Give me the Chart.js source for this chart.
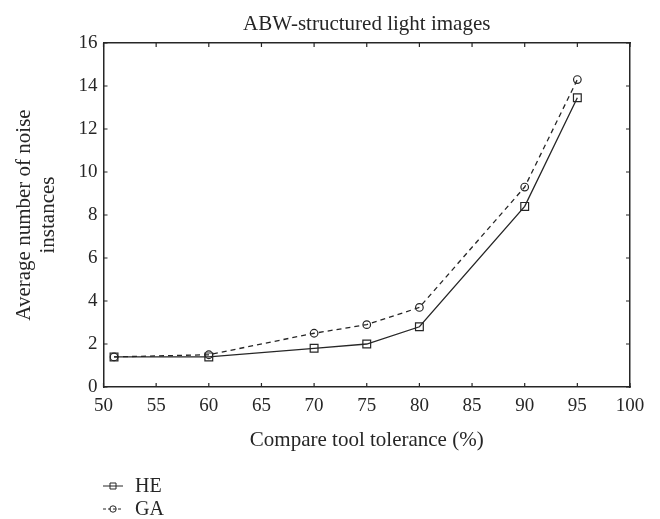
<!DOCTYPE html>
<html>
<head>
<meta charset="utf-8">
<script src="https://cdn.jsdelivr.net/npm/chart.js@4/dist/chart.umd.min.js"></script>
<style>
  html, body { margin: 0; padding: 0; background: #fff; }
  #wrap { width: 660px; height: 519px; }
</style>
</head>
<body>
<div id="wrap"><canvas id="chart"></canvas></div>
<script>
const tolerance = [51, 60, 70, 75, 80, 90, 95]
const heValues = [1.4, 1.4, 1.8, 2.0, 2.8, 8.4, 13.45]
const gaValues = [1.4, 1.5, 2.5, 2.9, 3.7, 9.3, 14.3]
const xTicks = [50, 55, 60, 65, 70, 75, 80, 85, 90, 95, 100]
const yTicks = [0, 2, 4, 6, 8, 10, 12, 14, 16]

const serif = '"Liberation Serif", "DejaVu Serif", serif'
const ink = '#262626'

// inner tick marks on all four sides + legend under the axis title
const frameTicks = {
  id: 'frameTicks',
  afterDraw(chart) {
    const { ctx, chartArea: a } = chart
    const x = chart.scales.x, y = chart.scales.y
    const len = 4
    ctx.save()
    ctx.strokeStyle = ink
    ctx.lineWidth = 1.2
    ctx.beginPath()
    xTicks.forEach(v => {
      const px = x.getPixelForValue(v)
      ctx.moveTo(px, a.bottom); ctx.lineTo(px, a.bottom - len)
      ctx.moveTo(px, a.top); ctx.lineTo(px, a.top + len)
    })
    yTicks.forEach(v => {
      const py = y.getPixelForValue(v)
      ctx.moveTo(a.left, py); ctx.lineTo(a.left + len, py)
      ctx.moveTo(a.right, py); ctx.lineTo(a.right - len, py)
    })
    ctx.stroke()

    // legend
    const items = [
      { label: 'HE', dash: [], style: 'rect' },
      { label: 'GA', dash: [3, 2], style: 'circle' }
    ]
    ctx.font = '20px ' + serif
    ctx.textBaseline = 'middle'
    items.forEach((it, i) => {
      const ly = 486 + i * 23
      ctx.setLineDash(it.dash)
      ctx.lineWidth = 1
      ctx.beginPath()
      ctx.moveTo(103, ly); ctx.lineTo(123, ly)
      ctx.stroke()
      ctx.setLineDash([])
      ctx.beginPath()
      if (it.style === 'rect') ctx.rect(110, ly - 3, 6, 6)
      else ctx.arc(113, ly, 3.2, 0, Math.PI * 2)
      ctx.stroke()
      ctx.fillStyle = ink
      ctx.fillText(it.label, 135, ly + 1)
    })
    ctx.restore()
  }
}

new Chart(document.getElementById('chart'), {
  type: 'line',
  data: {
    datasets: [
      {
        label: 'HE',
        data: tolerance.map((t, i) => ({ x: t, y: heValues[i] })),
        borderColor: ink,
        borderWidth: 1.3,
        pointStyle: 'rect',
        pointRadius: 5.5,
        pointBorderWidth: 1.2,
        pointBackgroundColor: 'rgba(0,0,0,0)',
        pointBorderColor: ink,
        tension: 0
      },
      {
        label: 'GA',
        data: tolerance.map((t, i) => ({ x: t, y: gaValues[i] })),
        borderColor: ink,
        borderWidth: 1.3,
        borderDash: [5, 4],
        pointStyle: 'circle',
        pointRadius: 3.8,
        pointBorderWidth: 1.2,
        pointBackgroundColor: 'rgba(0,0,0,0)',
        pointBorderColor: ink,
        tension: 0
      }
    ]
  },
  options: {
    responsive: true,
    maintainAspectRatio: false,
    animation: false,
    layout: { padding: { left: 0, right: 29, top: 0, bottom: 66 } },
    plugins: {
      legend: { display: false },
      tooltip: { enabled: false }
    },
    scales: {
      x: {
        type: 'linear',
        min: 50,
        max: 100,
        afterBuildTicks: s => { s.ticks = xTicks.map(v => ({ value: v })) },
        grid: { display: false, drawTicks: false, tickLength: 0 },
        border: { display: true, color: ink, width: 1.5 },
        ticks: { color: ink, font: { family: serif, size: 19 }, padding: 8, maxRotation: 0 },
        title: { display: true, text: 'Compare tool tolerance (%)', color: ink, font: { family: serif, size: 21 }, padding: { top: 4, bottom: 0 } },
        afterFit: s => { s.height = 66 }
      },
      x2: {
        type: 'linear',
        position: 'top',
        min: 50,
        max: 100,
        grid: { display: false },
        border: { display: true, color: ink, width: 1.5 },
        ticks: { display: false },
        title: { display: true, text: 'ABW-structured light images', color: ink, font: { family: serif, size: 21 }, padding: { top: 12, bottom: 0 } },
        afterFit: s => { s.height = 43 }
      },
      y: {
        type: 'linear',
        min: 0,
        max: 16,
        afterBuildTicks: s => { s.ticks = yTicks.map(v => ({ value: v })) },
        grid: { display: false, drawTicks: false, tickLength: 0 },
        border: { display: true, color: ink, width: 1.5 },
        ticks: { color: ink, font: { family: serif, size: 19 }, padding: 6 },
        title: { display: true, text: ['Average number of noise', 'instances'], color: ink, font: { family: serif, size: 21, lineHeight: 1.15 }, padding: { top: 12, bottom: 0 } },
        afterFit: s => { s.width = 103.5 }
      },
      y2: {
        type: 'linear',
        position: 'right',
        min: 0,
        max: 16,
        grid: { display: false },
        border: { display: true, color: ink, width: 1.5 },
        ticks: { display: false },
        afterFit: s => { s.width = 1 }
      }
    }
  },
  plugins: [frameTicks]
})
</script>
</body>
</html>
